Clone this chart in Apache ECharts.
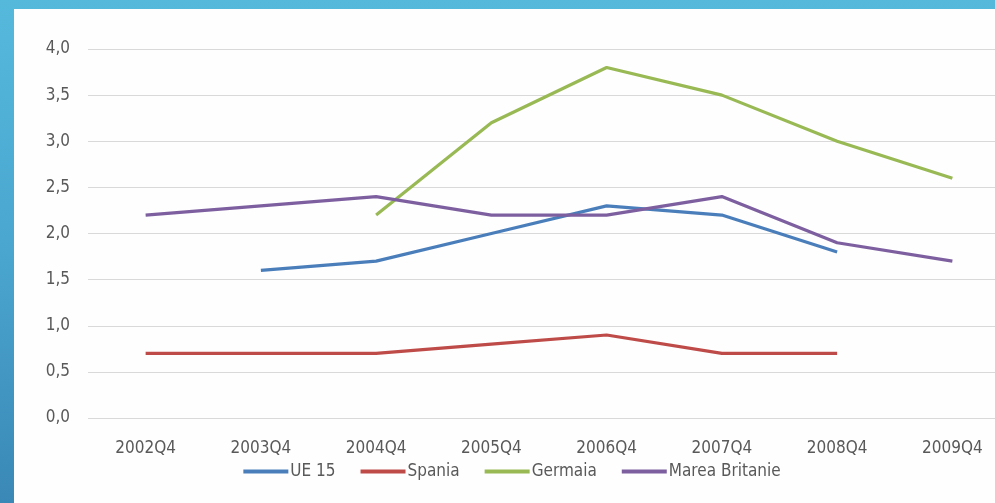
<!DOCTYPE html>
<html><head><meta charset="utf-8">
<script src="https://cdn.jsdelivr.net/npm/echarts@6/dist/echarts.min.js"></script>
<style>
html,body{margin:0;padding:0;width:995px;height:503px;overflow:hidden;position:relative;}
#frame{position:absolute;left:0;top:0;width:995px;height:503px;background:linear-gradient(180deg,#55b9dc 0%,#4aa6cf 50%,#3a88b6 100%);}
#inner{position:absolute;left:14px;top:9px;width:981px;height:494px;background:#fefefe;}
#chart{position:absolute;left:0;top:0;width:1024px;height:503px;}
</style></head><body>
<div id="frame"></div><div id="inner"></div><div id="chart"></div>
<script>
const categories=['2002Q4','2003Q4','2004Q4','2005Q4','2006Q4','2007Q4','2008Q4','2009Q4'];
const ue15=[null,1.6,1.7,2.0,2.3,2.2,1.8,null];
const spania=[0.7,0.7,0.7,0.8,0.9,0.7,0.7,null];
const germaia=[null,null,2.2,3.2,3.8,3.5,3.0,2.6];
const mareaBritanie=[2.2,2.3,2.4,2.2,2.2,2.4,1.9,1.7];
const yTicks=[0,0.5,1,1.5,2,2.5,3,3.5,4];
const font='"Liberation Sans Narrow","DejaVu Sans Condensed","Open Sans",sans-serif';
const chart=echarts.init(document.getElementById('chart'),null,{renderer:'canvas'});
function mk(name,data,color){return {name,type:'line',data,symbol:'none',connectNulls:false,lineStyle:{width:3.2,color},itemStyle:{color},z:2};}
chart.setOption({
  backgroundColor:'transparent',
  animation:false,
  grid:{left:88,top:49,width:922,height:369,containLabel:false},
  legend:{top:458,left:'center',itemWidth:45,itemHeight:4,itemGap:25,icon:'rect',
    textStyle:{fontFamily:font,fontSize:17,color:'#595959',padding:[0,0,0,-3]}},
  xAxis:{type:'category',data:categories,boundaryGap:true,
    axisLine:{show:false},axisTick:{show:false},
    axisLabel:{fontFamily:font,fontSize:17,color:'#595959',margin:22}},
  yAxis:{type:'value',min:0,max:4,interval:0.5,
    axisLine:{show:false},axisTick:{show:false},
    splitLine:{lineStyle:{color:'#d9d9d9',width:1}},
    axisLabel:{fontFamily:font,fontSize:17,color:'#595959',margin:18,
      formatter:v=>v.toFixed(1).replace('.',',')}},
  series:[mk('UE 15',ue15,'#4a7ebb'),mk('Spania',spania,'#be4b48'),mk('Germaia',germaia,'#98b954'),mk('Marea Britanie',mareaBritanie,'#7d5fa0')]
});
</script></body></html>
